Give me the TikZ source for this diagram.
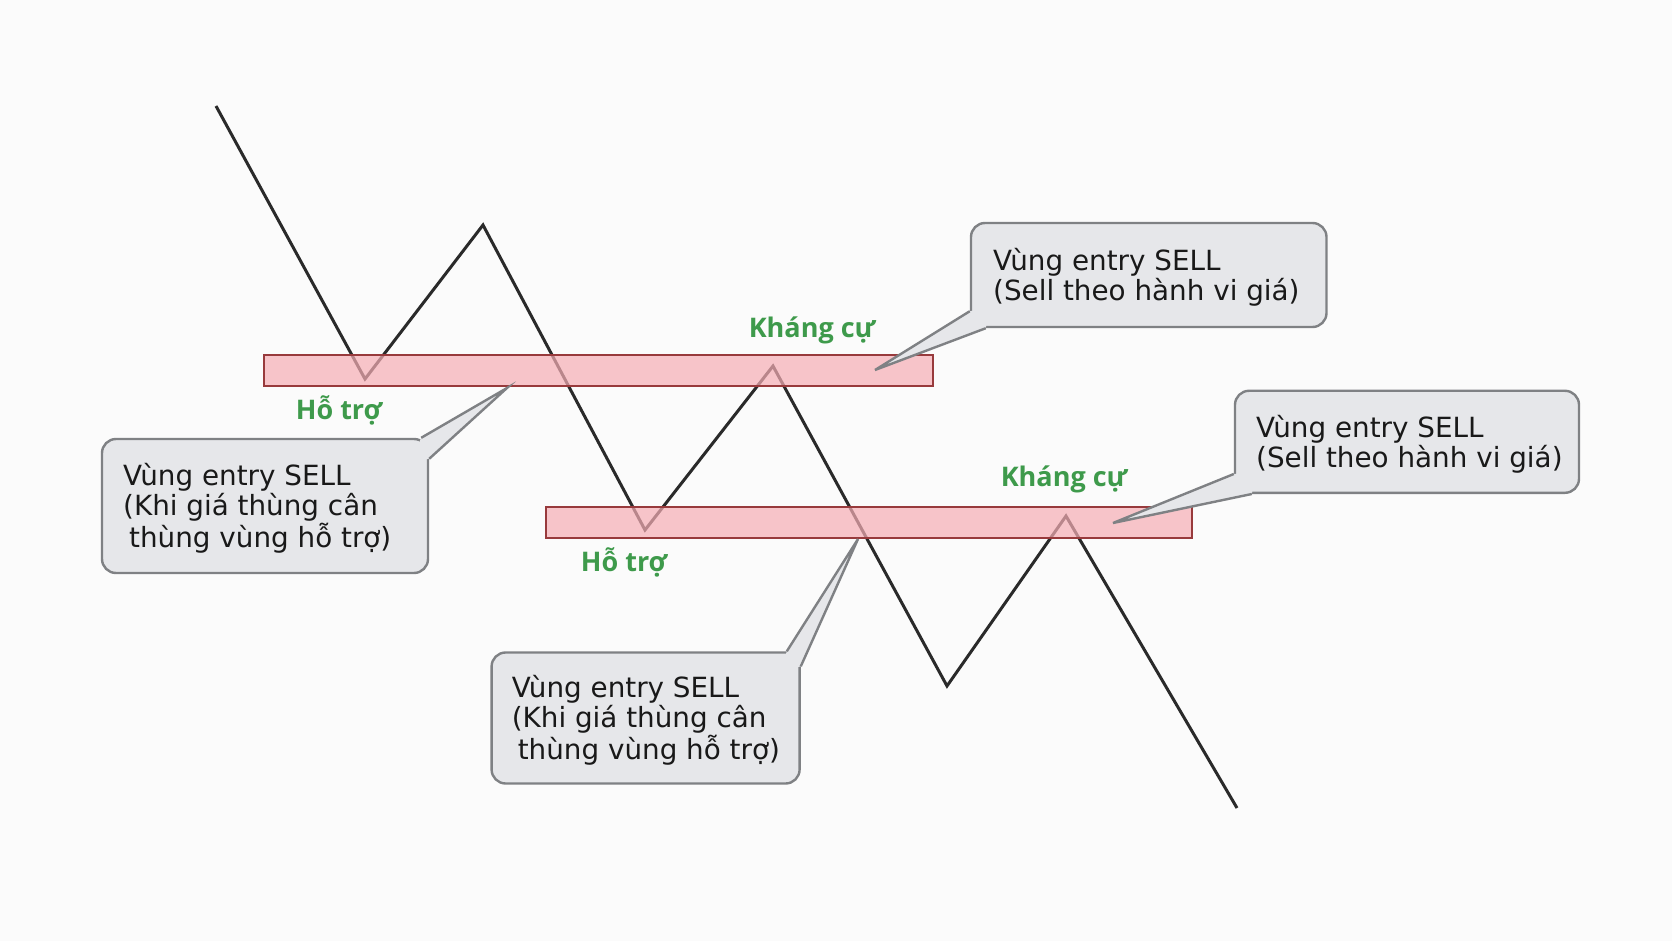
\documentclass[tikz,border=0pt]{standalone}
\usepackage{fontspec}
\setmainfont{DejaVu Sans}
\newfontfamily\labelfont{Open Sans}
\usepackage{tikz}

\definecolor{bgcol}{HTML}{FBFBFB}
\definecolor{zonefill}{HTML}{F6AEB5}
\definecolor{zoneedge}{HTML}{983A3C}
\definecolor{labelgreen}{HTML}{3E9A4B}
\definecolor{boxfill}{HTML}{E6E7EA}
\definecolor{boxedge}{HTML}{7F8184}
\definecolor{priceline}{HTML}{2A2A2A}

\begin{document}
\begin{tikzpicture}[x=0.5pt,y=-0.5pt,
  price/.style={draw=priceline,line width=1.5pt,line join=miter},
  zone/.style={draw=zoneedge,fill=zonefill,fill opacity=0.7,line width=0.9pt},
  lbl/.style={text=labelgreen,font=\labelfont\bfseries\fontsize{13.5}{15}\selectfont},
  callbox/.style={draw=boxedge,fill=boxfill,line width=1.2pt,rounded corners=7pt,inner sep=0pt},
  calltext/.style={anchor=west,inner sep=0pt,align=left,text=black!90,
    font=\fontsize{13.9}{15}\selectfont},
  pointer/.style={draw=boxedge,line width=1.2pt,line join=miter}]
\useasboundingbox (0,0) rectangle (1672,941);
\fill[bgcol] (0,0) rectangle (1672,941);

% price path
\draw[price] (216,106) -- (365,379) -- (483,225) -- (645,530) -- (773,366)
  -- (947,686) -- (1066,516) -- (1237,808);

% zones
\draw[zone] (264,355) rectangle (933,386);
\draw[zone] (546,507) rectangle (1192,538);

% zone labels
\node[lbl] (sup1) at (339,410) {Hỗ trợ};
\node[lbl] (sup2) at (624,562) {Hỗ trợ};
\node[lbl] (res1) at (812,330) {Kháng cự};
\node[lbl] (res2) at (1064,479) {Kháng cự};

% callouts
\coordinate (tipA) at (507,388);
\coordinate (tipB) at (858,539);
\coordinate (tipC) at (875,370);
\coordinate (tipD) at (1113,523);

\node[callbox,minimum width=163pt,minimum height=67pt] (boxA) at (265,506) {};
\fill[boxfill] ([xshift=-4pt]boxA.north east) -- (tipA)
  -- ([yshift=-10.5pt]boxA.north east) -- ([shift={(-9pt,-12pt)}]boxA.north east) -- cycle;
\draw[pointer] ([xshift=-4pt]boxA.north east) -- (tipA) -- ([yshift=-10.5pt]boxA.north east);
\node[calltext] (txtA) at ([shift={(11pt,-1pt)}]boxA.west)
  {Vùng entry SELL\\(Khi giá thùng cân\\\hspace*{3pt}thùng vùng hỗ trợ)};

\node[callbox,minimum width=154pt,minimum height=65.5pt] (boxB) at (645.6,718) {};
\fill[boxfill] ([xshift=-7pt]boxB.north east) -- (tipB)
  -- ([yshift=-7.5pt]boxB.north east) -- ([shift={(-10pt,-10pt)}]boxB.north east) -- cycle;
\draw[pointer] ([xshift=-7pt]boxB.north east) -- (tipB) -- ([yshift=-7.5pt]boxB.north east);
\node[calltext] (txtB) at ([shift={(10.5pt,-1pt)}]boxB.west)
  {Vùng entry SELL\\(Khi giá thùng cân\\\hspace*{3pt}thùng vùng hỗ trợ)};

\node[callbox,minimum width=177.75pt,minimum height=52pt] (boxC) at (1148.75,275) {};
\fill[boxfill] ([yshift=8.5pt]boxC.south west) -- (tipC)
  -- ([xshift=8pt]boxC.south west) -- ([shift={(10pt,10pt)}]boxC.south west) -- cycle;
\draw[pointer] ([yshift=8.5pt]boxC.south west) -- (tipC) -- ([xshift=8pt]boxC.south west);
\node[calltext] (txtC) at ([shift={(11.5pt,-1pt)}]boxC.west)
  {Vùng entry SELL\\(Sell theo hành vi giá)};

\node[callbox,minimum width=172pt,minimum height=51pt] (boxD) at (1407,441.8) {};
\fill[boxfill] ([yshift=10pt]boxD.south west) -- (tipD)
  -- ([xshift=9pt]boxD.south west) -- ([shift={(11pt,11pt)}]boxD.south west) -- cycle;
\draw[pointer] ([yshift=10pt]boxD.south west) -- (tipD) -- ([xshift=9pt]boxD.south west);
\node[calltext] (txtD) at ([shift={(11pt,-1pt)}]boxD.west)
  {Vùng entry SELL\\(Sell theo hành vi giá)};
\end{tikzpicture}
\end{document}
